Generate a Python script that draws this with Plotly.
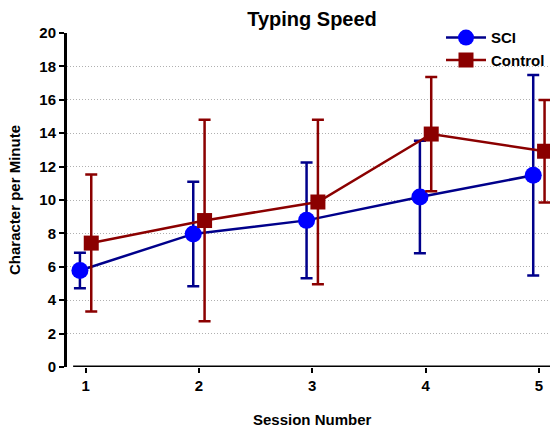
import plotly.graph_objects as go

sessions = [1, 2, 3, 4, 5]
sci_mean = [5.78, 7.97, 8.78, 10.18, 11.48]
sci_err = [1.06, 3.13, 3.47, 3.37, 6.0]
ctrl_mean = [7.42, 8.77, 9.88, 13.95, 12.92]
ctrl_err = [4.1, 6.03, 4.93, 3.42, 3.07]

FONT = "Liberation Sans, Arial, sans-serif"
off = 0.05

fig = go.Figure()
fig.add_trace(go.Scatter(
    x=[s - off for s in sessions], y=sci_mean, name="SCI",
    mode="lines+markers",
    line=dict(color="#00008B", width=2.5),
    marker=dict(symbol="circle", size=17, color="#0000FF", line=dict(width=0)),
    error_y=dict(type="data", array=sci_err, visible=True,
                 color="#00008B", thickness=2.5, width=6),
    cliponaxis=False,
))
fig.add_trace(go.Scatter(
    x=[s + off for s in sessions], y=ctrl_mean, name="Control",
    mode="lines+markers",
    line=dict(color="#8B0000", width=2.5),
    marker=dict(symbol="square", size=15, color="#8B0000", line=dict(width=0)),
    error_y=dict(type="data", array=ctrl_err, visible=True,
                 color="#8B0000", thickness=2.5, width=6),
    cliponaxis=False,
))

# x-axis baseline (starts slightly right of the y-axis)
fig.add_shape(type="line", xref="x", yref="y", x0=0.89, x1=5.2, y0=0, y1=0,
              line=dict(color="black", width=3), layer="above")

fig.update_layout(
    width=550, height=427,
    margin=dict(l=67, r=0, t=33, b=60),
    paper_bgcolor="white", plot_bgcolor="white",
    showlegend=True,
    font=dict(family=FONT, color="black"),
    title=dict(text="Typing Speed", x=312 / 550, xref="container", xanchor="center",
               y=1 - 19 / 427, yref="container", yanchor="middle",
               font=dict(size=20, family=FONT, weight="bold", color="black")),
    legend=dict(x=1.0, y=1.035, xanchor="right", yanchor="top",
                bgcolor="rgba(0,0,0,0)", font=dict(size=15, family=FONT, weight="bold"),
                tracegroupgap=0, itemwidth=40),
    xaxis=dict(range=[0.836, 5.098], tickvals=sessions, ticktext=[str(s) for s in sessions],
               showgrid=False, zeroline=False, showline=False, automargin=False,
               ticks="outside", ticklen=5, tickwidth=2, tickcolor="black",
               tickfont=dict(size=15, family=FONT, weight="bold"),
               ),
    yaxis=dict(range=[0, 20], tickvals=list(range(0, 21, 2)), automargin=False,
               showgrid=True, gridcolor="#B0B0B0", griddash="1px,2px", gridwidth=1,
               zeroline=False, showline=True, linecolor="black", linewidth=3,
               ticks="outside", ticklen=5, tickwidth=2, tickcolor="black",
               tickfont=dict(size=15, family=FONT, weight="bold"),
               title=dict(text="Character per Minute", standoff=16,
                          font=dict(size=15, family=FONT, weight="bold"))),
    annotations=[dict(text="Session Number", xref="paper", yref="paper",
                      x=(312 - 67) / 483, y=-(419 - 367) / 334, xanchor="center", yanchor="middle",
                      showarrow=False, font=dict(size=15, family=FONT, weight="bold"))],
)

fig.write_html("out.html", config={"displayModeBar": False},
               post_script="document.body.style.margin='0';")
